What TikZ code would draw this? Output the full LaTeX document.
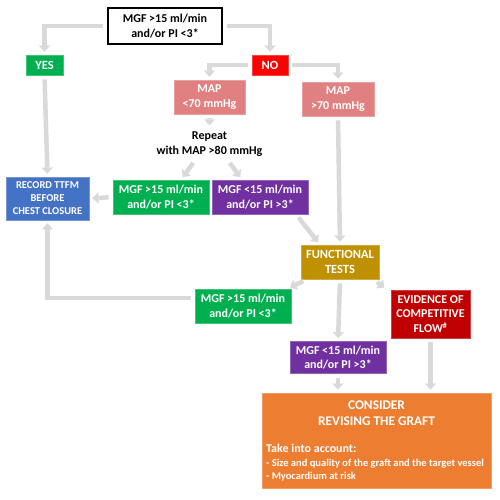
\documentclass[tikz,border=0pt]{standalone}
\usepackage{fontspec}
\setmainfont{Carlito}
\usepackage{tikz}
\usetikzlibrary{arrows.meta, positioning, calc}

\definecolor{flowgray}{RGB}{217,217,217}
\definecolor{yesgreen}{RGB}{0,176,80}
\definecolor{nored}{RGB}{255,0,0}
\definecolor{mappink}{RGB}{224,128,128}
\definecolor{recblue}{RGB}{68,114,196}
\definecolor{mgfpurple}{RGB}{112,48,160}
\definecolor{ftgold}{RGB}{191,144,0}
\definecolor{evred}{RGB}{192,0,0}
\definecolor{consorange}{RGB}{237,125,49}

\begin{document}
\begin{tikzpicture}[x=1pt, y=-1pt, font=\bfseries,
    box/.style={fill=#1, draw=#1!75!white, line width=0.8pt, text=white,
        align=center, inner sep=1pt},
    flow/.style={draw=flowgray, line width=4.5pt,
        -{Triangle[length=6pt, width=11pt, line width=0.1pt]},
        shorten <=4pt, shorten >=3pt}]
\useasboundingbox (0,0) rectangle (500,500);

% Decision
\node[draw=black, fill=white, line width=1.2pt, align=center, minimum width=114pt,
    minimum height=36pt, font=\bfseries\fontsize{12}{15}\selectfont] (top) at (165,26)
    {MGF >15 ml/min\\and/or PI <3*};
\node[box=yesgreen, minimum width=37pt, minimum height=20pt,
    font=\bfseries\fontsize{12.5}{14}\selectfont] (yes) at (44.5,65) {YES};
\node[box=nored, minimum width=36pt, minimum height=20pt,
    font=\bfseries\fontsize{12.5}{14}\selectfont] (no) at (270,65) {NO};

% MAP branch
\node[box=mappink, minimum width=71pt, minimum height=34pt,
    font=\bfseries\fontsize{12}{14.5}\selectfont] (maplow) at (209.5,97) {MAP\\<70 mmHg};
\node[box=mappink, minimum width=72pt, minimum height=34pt,
    font=\bfseries\fontsize{12}{14.5}\selectfont] (maphigh) at (338,99) {MAP\\>70 mmHg};
\node[align=center, font=\bfseries\fontsize{12}{14.5}\selectfont] (repeat) at (209.5,144)
    {Repeat\\with MAP >80 mmHg};

\node[box=recblue, minimum width=83pt, minimum height=43pt,
    font=\bfseries\fontsize{10.5}{13}\selectfont] (record) at (47.5,198.5)
    {RECORD TTFM\\BEFORE\\CHEST CLOSURE};
\node[box=yesgreen, minimum width=96pt, minimum height=34pt,
    font=\bfseries\fontsize{12}{14.5}\selectfont] (mgfok) at (161,197)
    {MGF >15 ml/min\\and/or PI <3*};
\node[box=mgfpurple, minimum width=96pt, minimum height=34pt,
    font=\bfseries\fontsize{12}{14.5}\selectfont] (mgfbad) at (260,197)
    {MGF <15 ml/min\\and/or PI >3*};

% Functional tests
\node[box=ftgold, minimum width=78pt, minimum height=34pt,
    font=\bfseries\fontsize{12.5}{14.5}\selectfont] (func) at (340,262) {FUNCTIONAL\\TESTS};
\node[box=yesgreen, minimum width=96pt, minimum height=34pt,
    font=\bfseries\fontsize{12}{14.5}\selectfont] (funcok) at (243,306)
    {MGF >15 ml/min\\and/or PI <3*};
\node[box=evred, minimum width=79pt, minimum height=48pt,
    font=\bfseries\fontsize{12}{14.5}\selectfont] (evid) at (430.5,314)
    {EVIDENCE OF\\COMPETITIVE\\FLOW\textsuperscript{\#}};
\node[box=mgfpurple, minimum width=96pt, minimum height=32pt,
    font=\bfseries\fontsize{12}{14.5}\selectfont] (funcbad) at (338,357.5)
    {MGF <15 ml/min\\and/or PI >3*};

% Consider revising
\node[box=consorange, minimum width=229pt, minimum height=95pt] (revise) at (376.5,440.5) {};
\node[text=white, align=center, font=\bfseries\fontsize{13.3}{16}\selectfont] (revisehead)
    at (376.5,413) {CONSIDER\\REVISING THE GRAFT};
\node[text=white, align=left, anchor=north west, inner sep=0pt,
    font=\bfseries\fontsize{10.5}{13.5}\selectfont] (revisenote) at (266,444)
    {{\fontsize{12}{13.5}\selectfont Take into account:}\\
     - Size and quality of the graft and the target vessel\\
     - Myocardium at risk};

% Connectors
\draw[flow] (top.west) -| (yes.north);
\draw[flow] (top.east) -| (no.north);
\draw[flow] (yes.south) -- (record.north);
\draw[flow] (no.west) -| (maplow.north);
\draw[flow] (no.east) -| (maphigh.north);
\draw[flow] (maplow.south) -- (repeat.north);
\draw[flow] ([xshift=-14pt]repeat.south) -- ([xshift=20pt]mgfok.north);
\draw[flow] ([xshift=18pt]repeat.south) -- ([xshift=-18pt]mgfbad.north);
\draw[flow] (mgfok.west) -- (record.east);
\draw[flow] ([xshift=36pt]mgfbad.south) -- ([xshift=-20pt]func.north);
\draw[flow] (maphigh.south) -- (func.north);
\draw[flow] ([xshift=-33pt]func.south) -- ([xshift=-4pt]funcok.north east);
\draw[flow] (func.south) -- (funcbad.north);
\draw[flow] ([xshift=34pt]func.south) -- ([xshift=-4pt]evid.north west);
\draw[flow] ([yshift=8pt]funcok.west) -| (record.south);
\draw[flow] (funcbad.south) -- (funcbad.south |- revise.north);
\draw[flow] (evid.south) -- (evid.south |- revise.north);
\end{tikzpicture}
\end{document}
